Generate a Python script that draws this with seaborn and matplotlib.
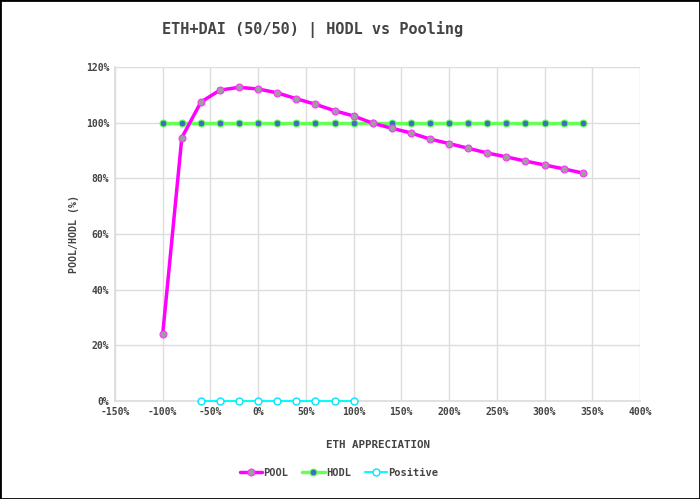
import numpy as np
import pandas as pd
import matplotlib
matplotlib.use('Agg')
import matplotlib.pyplot as plt
import seaborn as sns
from matplotlib.ticker import FuncFormatter, MultipleLocator

# ETH price change (%) and POOL/HODL ratio (%)
eth_pool = [-100, -80, -60, -40, -20, 0, 20, 40, 60, 80, 100, 120, 140, 160,
            180, 200, 220, 240, 260, 280, 300, 320, 340]
pool = [24.1, 94.6, 107.4, 111.7, 112.7, 112.1, 110.7, 108.6, 106.6, 104.3,
        102.4, 99.8, 98.0, 96.3, 94.1, 92.5, 90.8, 89.1, 87.7, 86.2, 84.8,
        83.4, 81.9]
hodl = [100] * len(eth_pool)
eth_pos = [-60, -40, -20, 0, 20, 40, 60, 80, 100]
positive = [0] * len(eth_pos)

df_pool = pd.DataFrame({'x': eth_pool, 'y': pool})
df_hodl = pd.DataFrame({'x': eth_pool, 'y': hodl})
df_pos = pd.DataFrame({'x': eth_pos, 'y': positive})

sns.set_theme(style='whitegrid')
plt.rcParams['font.family'] = ['DejaVu Sans Mono']

fig = plt.figure(figsize=(7, 4.99), dpi=100)
ax = fig.add_axes([115 / 700, 1 - 401 / 499, 525 / 700, 334 / 499])

sns.lineplot(data=df_pool, x='x', y='y', ax=ax, color='#ff00ff', linewidth=2.5,
             marker='o', markersize=5, markerfacecolor='#9e9e9e',
             markeredgecolor='#ff33ff', markeredgewidth=0.8, label='POOL', zorder=3)
sns.lineplot(data=df_hodl, x='x', y='y', ax=ax, color='#66ff55', linewidth=2.5,
             marker='o', markersize=5, markerfacecolor='#3f6fc0',
             markeredgecolor='#66ff55', markeredgewidth=0.8, label='HODL', zorder=2)
sns.lineplot(data=df_pos, x='x', y='y', ax=ax, color='#00ffff', linewidth=1.5,
             marker='o', markersize=5, markerfacecolor='white',
             markeredgecolor='#00e5ff', markeredgewidth=1.0, label='Positive',
             zorder=4, clip_on=False)

ax.set_xlim(-150, 400)
ax.set_ylim(0, 120)
ax.xaxis.set_major_locator(MultipleLocator(50))
ax.yaxis.set_major_locator(MultipleLocator(20))
ax.xaxis.set_major_formatter(FuncFormatter(lambda v, p: f'{int(v)}%'))
ax.yaxis.set_major_formatter(FuncFormatter(lambda v, p: f'{int(v)}%'))
ax.grid(True, color='#dddddd', linewidth=1)
ax.set_facecolor('white')
for s in ax.spines.values():
    s.set_visible(False)
ax.spines['left'].set_visible(True)
ax.spines['left'].set_color('#dddddd')
ax.spines['bottom'].set_visible(True)
ax.spines['bottom'].set_color('#dddddd')
ax.tick_params(axis='both', labelsize=7, colors='#444444', length=0, pad=4)
for lbl in ax.get_xticklabels() + ax.get_yticklabels():
    lbl.set_fontweight('bold')

ax.set_xlabel('ETH APPRECIATION', fontsize=7.8, fontweight='bold', color='#444444', labelpad=17)
ax.set_ylabel('POOL/HODL (%)', fontsize=7.2, fontweight='bold', color='#444444', labelpad=5)

fig.text(313 / 700, 1 - 30 / 499, 'ETH+DAI (50/50) | HODL vs Pooling', ha='center', va='center',
         fontsize=11, fontweight='bold', color='#444444')

leg = ax.legend(loc='center', bbox_to_anchor=(339 / 700, 1 - 473 / 499),
                bbox_transform=fig.transFigure, ncol=3, frameon=False,
                fontsize=7.5, handlelength=2.2, handletextpad=0.1, columnspacing=1.3)
for t in leg.get_texts():
    t.set_fontweight('bold')
    t.set_color('#444444')

fig.patches.append(plt.Rectangle((0, 0), 1, 1, transform=fig.transFigure, fill=False,
                                 edgecolor='black', linewidth=2))

fig.savefig('out.png', dpi=100)
